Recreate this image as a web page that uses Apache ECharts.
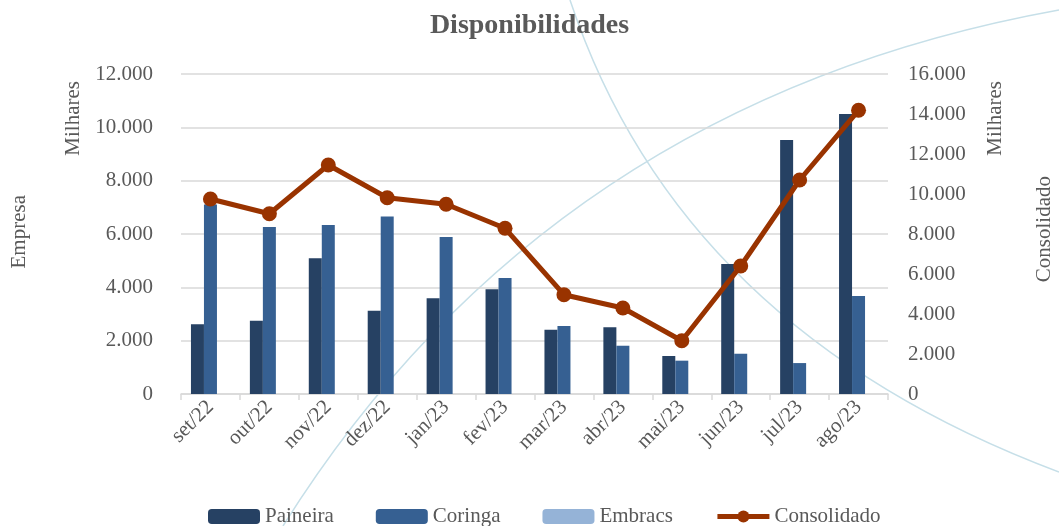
<!DOCTYPE html>
<html><head><meta charset="utf-8">
<script src="https://cdn.jsdelivr.net/npm/echarts@6/dist/echarts.min.js"></script>
<style>html,body{margin:0;padding:0;background:#fff}#c{width:1059px;height:526px}</style>
</head><body><div id="c"></div>
<script>
const categories = ['set/22','out/22','nov/22','dez/22','jan/23','fev/23','mar/23','abr/23','mai/23','jun/23','jul/23','ago/23'];
const paineira = [2620, 2750, 5090, 3120, 3590, 3930, 2410, 2500, 1425, 4875, 9525, 10500];
const coringa  = [7110, 6260, 6340, 6660, 5890, 4350, 2550, 1810, 1250, 1510, 1160, 3675];
const embracs  = [0, 0, 0, 0, 0, 0, 0, 0, 0, 0, 0, 0];
const consolidado = [9750, 9015, 11450, 9815, 9485, 8285, 4965, 4300, 2665, 6400, 10700, 14185];

const fmt = v => v === 0 ? '0' : (v/1).toLocaleString('de-DE').replace(/,/g,'.');
const font = 'Liberation Serif';
const gray = '#595959';

const chart = echarts.init(document.getElementById('c'));
chart.setOption({
  animation: false,
  textStyle: { fontFamily: font },
  title: { text: 'Disponibilidades', left: 'center', top: 7,
    textStyle: { fontFamily: font, fontSize: 28, fontWeight: 'bold', color: gray } },
  graphic: [
    { type: 'bezierCurve', z: -1, silent: true,
      shape: { x1: 570, y1: 0, x2: 1059, y2: 472, cpx1: 680, cpy1: 330 },
      style: { stroke: '#c6dfe8', lineWidth: 1.5, fill: null } },
    { type: 'bezierCurve', z: -1, silent: true,
      shape: { x1: 283, y1: 526, x2: 1059, y2: 10, cpx1: 549, cpy1: 102 },
      style: { stroke: '#c6dfe8', lineWidth: 1.5, fill: null } },
    { type: 'text', left: 63, top: 81, rotation: Math.PI/2,
      style: { text: 'Milhares', fontFamily: font, fontSize: 21, fill: gray } },
    { type: 'text', left: 9, top: 195, rotation: Math.PI/2,
      style: { text: 'Empresa', fontFamily: font, fontSize: 21, fill: gray } },
    { type: 'text', left: 985, top: 81, rotation: Math.PI/2,
      style: { text: 'Milhares', fontFamily: font, fontSize: 21, fill: gray } },
    { type: 'text', left: 1034, top: 176, rotation: Math.PI/2,
      style: { text: 'Consolidado', fontFamily: font, fontSize: 21, fill: gray } }
  ],
  legend: {
    bottom: -6, left: 203, itemWidth: 52, itemHeight: 15, itemGap: 42,
    textStyle: { fontFamily: font, fontSize: 21, color: gray },
    lineStyle: { width: 5 },
    data: ['Paineira','Coringa','Embracs','Consolidado']
  },
  grid: { left: 181, right: 171, top: 74, bottom: 132 },
  xAxis: {
    type: 'category', data: categories, boundaryGap: true,
    axisLine: { lineStyle: { color: '#d9d9d9', width: 1.5 } },
    axisTick: { show: true, length: 6, lineStyle: { color: '#d9d9d9', width: 1.5 } },
    axisLabel: { rotate: 45, fontFamily: font, fontSize: 21, color: gray, margin: 10 }
  },
  yAxis: [
    { type: 'value', min: 0, max: 12000, interval: 2000,
      axisLabel: { fontFamily: font, fontSize: 21, color: gray, margin: 28, formatter: fmt },
      splitLine: { lineStyle: { color: '#d9d9d9', width: 1.5 } },
      axisLine: { show: false }, axisTick: { show: false } },
    { type: 'value', min: 0, max: 16000, interval: 2000,
      axisLabel: { fontFamily: font, fontSize: 21, color: gray, margin: 20, formatter: fmt },
      splitLine: { show: false }, axisLine: { show: false }, axisTick: { show: false } }
  ],
  series: [
    { name: 'Paineira', type: 'bar', data: paineira, barWidth: 13, barGap: '0%',
      itemStyle: { color: '#264163' } },
    { name: 'Coringa', type: 'bar', data: coringa, barWidth: 13, barGap: '0%',
      itemStyle: { color: '#366092' } },
    { name: 'Embracs', type: 'bar', data: embracs, barWidth: 13, barGap: '0%',
      itemStyle: { color: '#95b3d7' } },
    { name: 'Consolidado', type: 'line', yAxisIndex: 1, data: consolidado,
      symbol: 'circle', symbolSize: 15, z: 5,
      lineStyle: { color: '#993300', width: 5 },
      itemStyle: { color: '#993300' } }
  ]
});
</script></body></html>
